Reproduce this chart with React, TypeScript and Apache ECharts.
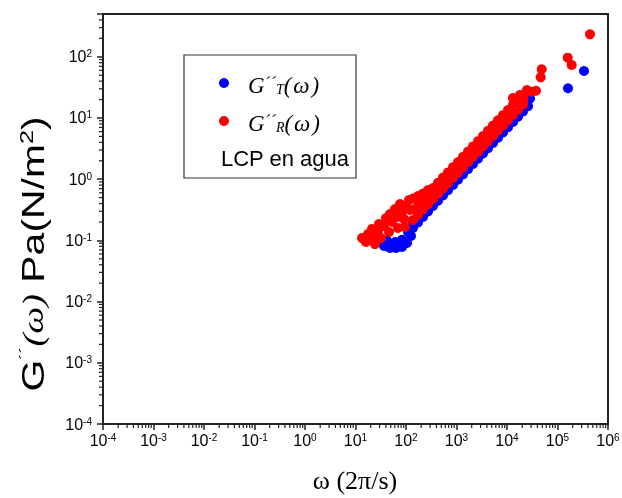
import React, { useEffect, useRef } from 'react';
import * as echarts from 'echarts';

const X_MIN = 1e-4;
const X_MAX = 1e6;
const Y_MIN = 1e-4;
const Y_MAX = 500;

const MINOR_MULTIPLIERS = [2, 3, 4, 5, 6, 7, 8, 9];
const X_DECADES = [-4, -3, -2, -1, 0, 1, 2, 3, 4, 5];
const Y_DECADES = [-4, -3, -2, -1, 0, 1, 2];

// ---------- G''_T(omega) : [omega, G] ----------
const tBlob: number[][] = [
  [27.9, 0.094], [36.7, 0.081], [48.2, 0.075], [63.4, 0.075], [83.3, 0.078],
  [104.7, 0.091], [125.6, 0.118], [42.1, 0.098], [60.6, 0.094], [83.3, 0.102], [109.5, 0.137],
];
const tLower: number[][] = [
  [137.6, 0.1595], [172.8, 0.196], [217.1, 0.241], [272.7, 0.297], [342.5, 0.365],
  [430, 0.445], [540, 0.542], [679, 0.66], [852, 0.804], [1071, 0.98],
  [1345, 1.193], [1690, 1.454], [2122, 1.772], [2666, 2.159], [3348, 2.63],
  [4206, 3.204], [5283, 3.904], [6635, 4.756], [8333, 5.797], [10467, 7.062],
  [13147, 8.603], [16513, 10.48], [20745, 12.77], [26056, 15.56],
];
const tUpper: number[][] = [
  [137.6, 0.2], [172.8, 0.246], [217.1, 0.302], [272.7, 0.372], [342.5, 0.457],
  [430, 0.557], [540, 0.679], [679, 0.827], [852, 1.008], [1071, 1.228],
  [1345, 1.496], [1690, 1.822], [2122, 2.22], [2666, 2.705], [3348, 3.296],
  [4206, 4.016], [5283, 4.892], [6635, 5.962], [8333, 7.263], [10467, 8.849],
  [13147, 10.78], [16513, 13.14], [20745, 16.0], [26056, 19.5],
];
const tOutliers: number[][] = [[28541, 20.9], [161400, 30.6], [334900, 58.6]];

// ---------- G''_R(omega) : [omega, G] ----------
const rBlob: number[][] = [
  [13.45, 0.109], [16.1, 0.094], [17.7, 0.127], [22.2, 0.114], [21.2, 0.154],
  [27.9, 0.142], [29.2, 0.185], [36.7, 0.172], [40.2, 0.232], [48.2, 0.27],
  [52.8, 0.2], [60.6, 0.326], [66.3, 0.241], [76.1, 0.393], [83.3, 0.291],
  [95.5, 0.166], [100, 0.365], [91.3, 0.224], [114.7, 0.457], [120, 0.314],
  [69.4, 0.16], [46.1, 0.137], [32.0, 0.109], [24.3, 0.087],
];
const rTop: number[][] = [
  [137.6, 0.484], [172.8, 0.531], [217.1, 0.584], [272.7, 0.666], [342.5, 0.718],
  [430, 0.873], [540, 1.062], [679, 1.291], [852, 1.571], [1071, 1.91],
  [1345, 2.323], [1690, 2.825], [2122, 3.436], [2666, 4.178], [3348, 5.08],
  [4206, 6.18], [5283, 7.51], [6635, 9.14], [8333, 11.11], [10467, 13.51],
  [13147, 16.43], [16513, 19.98], [20745, 24.3],
];
const rMid: number[][] = [
  [141, 0.323], [176, 0.373], [222, 0.432], [279, 0.51], [351, 0.584],
  [441, 0.71], [553, 0.867], [695, 1.054], [873, 1.282], [1097, 1.559],
  [1378, 1.903], [1731, 2.314], [2174, 2.814], [2731, 3.422], [3430, 4.178],
  [4308, 5.08], [5412, 6.18], [6797, 7.51], [8536, 9.17], [10722, 11.15],
  [13468, 13.56], [16916, 16.5], [21250, 20.13],
];
const rBottom: number[][] = [
  [137.6, 0.215], [172.8, 0.263], [217.1, 0.32], [272.7, 0.39], [342.5, 0.475],
  [430, 0.578], [540, 0.705], [679, 0.859], [852, 1.046], [1071, 1.275],
  [1345, 1.553], [1690, 1.892], [2122, 2.305], [2666, 2.809], [3348, 3.422],
  [4206, 4.17], [5283, 5.08], [6635, 6.19], [8333, 7.54], [10467, 9.19],
  [13147, 11.19], [16513, 13.64], [20745, 16.62],
];
const rOutliers: number[][] = [
  [18090, 23.8], [13150, 21.2], [24890, 28.7], [30843, 26.9], [37520, 27.9],
  [46480, 46.2], [48650, 62.5], [159200, 96.7], [191100, 73.5], [440100, 233],
];

const SANS = 'Liberation Sans, Arial, sans-serif';
const SERIF = 'Liberation Serif, Times New Roman, serif';

function powLabel(v: number): string {
  const e = Math.log10(v);
  const r = Math.round(e);
  if (Math.abs(e - r) > 1e-6) return '';
  return `{b|10}{s|${r}}`;
}

const labelRich = {
  b: { fontSize: 16, fontFamily: SANS, color: '#000' },
  s: { fontSize: 10, fontFamily: SANS, color: '#000', verticalAlign: 'top' },
};

const legendRich = {
  g: { fontFamily: SERIF, fontStyle: 'italic', fontSize: 23, fill: '#000', color: '#000' },
  p: { fontFamily: SERIF, fontStyle: 'italic', fontSize: 17, fill: '#000', color: '#000', verticalAlign: 'top' },
  s: { fontFamily: SERIF, fontStyle: 'italic', fontSize: 14, fill: '#000', color: '#000', verticalAlign: 'bottom' },
  w: { fontFamily: SERIF, fontStyle: 'italic', fontSize: 23, fill: '#000', color: '#000' },
};

export default function App() {
  const ref = useRef<HTMLDivElement>(null);
  useEffect(() => {
    document.body.style.margin = '0';
    const chart = echarts.init(ref.current!, null, { renderer: 'svg' });

    const xMinor: number[][] = [];
    X_DECADES.forEach((d) => MINOR_MULTIPLIERS.forEach((m) => xMinor.push([m * Math.pow(10, d), Y_MIN])));
    const yMinor: number[][] = [];
    Y_DECADES.forEach((d) =>
      MINOR_MULTIPLIERS.forEach((m) => {
        const v = m * Math.pow(10, d);
        if (v < Y_MAX) yMinor.push([X_MIN, v]);
      })
    );

    const scatterBase = { type: 'scatter', symbol: 'circle', symbolSize: 10 };

    const option: any = {
      animation: false,
      grid: {
        left: 103, right: 14, top: 14, bottom: 74,
        show: true, borderColor: '#222', borderWidth: 2,
        outerBoundsMode: 'none',
      },
      xAxis: {
        type: 'log', logBase: 10, min: X_MIN, max: X_MAX, splitNumber: 10,
        axisLine: { show: true, onZero: false, lineStyle: { color: '#222', width: 2 } },
        axisTick: { show: true, inside: false, length: 6, lineStyle: { color: '#222', width: 1.5 } },
        splitLine: { show: false },
        minorTick: { show: false },
        axisLabel: { formatter: powLabel, rich: labelRich, margin: 8, hideOverlap: false },
      },
      yAxis: {
        type: 'log', logBase: 10, min: Y_MIN, max: Y_MAX, splitNumber: 7,
        axisLine: { show: true, onZero: false, lineStyle: { color: '#222', width: 2 } },
        axisTick: { show: true, inside: false, length: 6, lineStyle: { color: '#222', width: 1.5 } },
        splitLine: { show: false },
        minorTick: { show: false },
        axisLabel: { formatter: powLabel, rich: labelRich, margin: 11, hideOverlap: false },
      },
      series: [
        {
          type: 'custom', silent: true, clip: false, encode: { x: 0, y: 1 }, data: xMinor,
          renderItem: (_p: any, api: any) => {
            const p = api.coord([api.value(0), Y_MIN]);
            return { type: 'line', shape: { x1: p[0], y1: p[1], x2: p[0], y2: p[1] + 4 }, style: { stroke: '#222', lineWidth: 1.2 } };
          },
        },
        {
          type: 'custom', silent: true, clip: false, encode: { x: 0, y: 1 }, data: yMinor,
          renderItem: (_p: any, api: any) => {
            const p = api.coord([X_MIN, api.value(1)]);
            return { type: 'line', shape: { x1: p[0] - 4, y1: p[1], x2: p[0], y2: p[1] }, style: { stroke: '#222', lineWidth: 1.2 } };
          },
        },
        {
          ...scatterBase, name: "G''T",
          itemStyle: { color: '#0000ff', opacity: 1 },
          data: tBlob.concat(tUpper, tLower, tOutliers),
        },
        {
          ...scatterBase, name: "G''R",
          itemStyle: { color: '#ff0000', opacity: 1 },
          data: rBlob.concat(rBottom, rMid, rTop, rOutliers),
        },
      ],
      graphic: [
        { type: 'rect', shape: { x: 184, y: 55, width: 172, height: 123 }, style: { fill: '#fff', stroke: '#333', lineWidth: 1.2 }, z: 10 },
        { type: 'circle', shape: { cx: 224, cy: 83, r: 5 }, style: { fill: '#0000ff' }, z: 11 },
        { type: 'circle', shape: { cx: 224, cy: 121, r: 5 }, style: { fill: '#ff0000' }, z: 11 },
        {
          type: 'text', x: 248, y: 85, z: 11,
          style: { text: '{g|G}{p|´´}{s|T}{w|(\u200Aω\u200A)}', align: 'left', verticalAlign: 'middle', rich: legendRich },
        },
        {
          type: 'text', x: 248, y: 123, z: 11,
          style: { text: '{g|G}{p|´´}{s|R}{w|(\u200Aω\u200A)}', align: 'left', verticalAlign: 'middle', rich: legendRich },
        },
        {
          type: 'text', x: 221, y: 158, z: 11,
          style: { text: 'LCP en agua', fontFamily: SANS, fontSize: 22, fill: '#000', align: 'left', verticalAlign: 'middle' },
        },
        {
          type: 'text', x: 33, y: 254, rotation: Math.PI / 2, scaleX: 1.32,
          style: {
            text: '{a|G}{p|´´}{w|(ω)}{a| Pa(N/m}{sup|2}{a|)}',
            align: 'center', verticalAlign: 'middle',
            rich: {
              a: { fontFamily: SANS, fontSize: 31, fill: '#000', color: '#000' },
              p: { fontFamily: SANS, fontSize: 15, fill: '#000', color: '#000', verticalAlign: 'top' },
              w: { fontFamily: SERIF, fontStyle: 'italic', fontSize: 29, fill: '#000', color: '#000' },
              sup: { fontFamily: SANS, fontSize: 19, fill: '#000', color: '#000', verticalAlign: 'top' },
            },
          },
        },
        {
          type: 'text', x: 355, y: 480,
          style: { text: 'ω (2π/s)', fontFamily: SERIF, fontSize: 26, fill: '#000', align: 'center', verticalAlign: 'middle' },
        },
      ],
    };
    chart.setOption(option);
    return () => chart.dispose();
  }, []);
  return <div ref={ref} style={{ position: 'fixed', left: 0, top: 0, width: 622, height: 498 }} />;
}
